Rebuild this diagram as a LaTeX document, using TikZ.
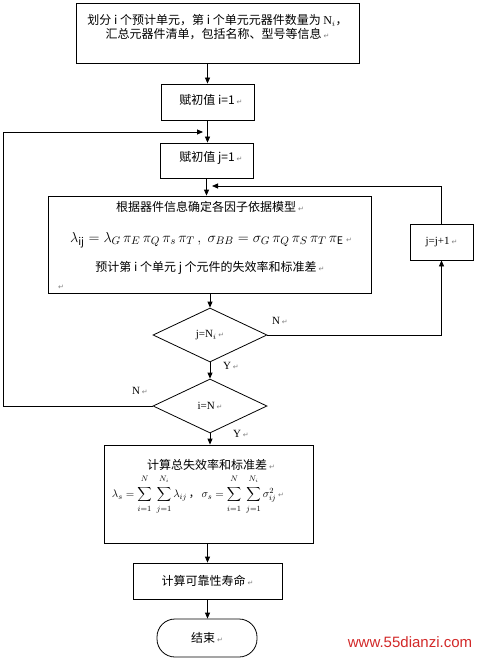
\documentclass[tikz,border=0pt]{standalone}
\usepackage{fontspec}
\setmainfont{Noto Sans CJK SC}
\newfontfamily\lat{Liberation Serif}
\newfontfamily\wmf{Liberation Sans}
\newfontfamily\symf{DejaVu Sans}
\usetikzlibrary{arrows.meta,shapes.geometric}
\newcommand{\retmark}{\,{\symf\fontsize{7}{7}\selectfont\textcolor{gray}{↵}}}
\newcommand{\mysum}[2]{\mathop{\sum}\limits_{\lower3pt\hbox{$\scriptstyle #1$}}^{\raise3pt\hbox{$\scriptstyle #2$}}}
\definecolor{wmred}{RGB}{210,40,40}
\begin{document}
\begin{tikzpicture}[x=1pt,y=-1pt,
  box/.style={draw,line width=0.8pt,inner sep=0pt},
  arr/.style={line width=0.8pt,-{Triangle[length=6pt,width=5pt]}},
  ln/.style={line width=0.8pt},
  txt/.style={inner sep=0pt,font=\fontsize{12}{14}\selectfont},
  lbl/.style={inner sep=0pt,font=\lat\fontsize{11}{12}\selectfont},
  dia/.style={diamond,draw,line width=0.8pt,aspect=2.1,minimum width=114pt,minimum height=54pt,inner sep=0pt,font=\lat\fontsize{11}{12}\selectfont}]
\useasboundingbox (0,0) rectangle (479,663);
% boxes
\node[box,minimum width=283pt,minimum height=60pt] (b1) at (217.5,33) {};
\node[txt,align=center] (t1) at (217.5,27) {划分 i 个预计单元，第 i 个单元元器件数量为 {\lat N$_i$}，\\汇总元器件清单，包括名称、型号等信息\retmark};
\node[box,minimum width=93pt,minimum height=36pt] (b2) at (207.5,102) {};
\node[txt] (t2) at (211,100) {赋初值 i=1\retmark};
\node[box,minimum width=93pt,minimum height=35pt] (b3) at (206.5,160.5) {};
\node[txt] (t3) at (211,158) {赋初值 j=1\retmark};
\node[box,minimum width=323pt,minimum height=97pt] (b4) at (209.5,244.5) {};
\node[txt] (t4a) at (210,207) {根据器件信息确定各因子依据模型\retmark};
\node[txt,font=\fontsize{15}{17}\selectfont] (t4b) at (211,240) {$\lambda_{\mathrm{ij}} = \lambda_G\,\pi_E\,\pi_Q\,\pi_s\,\pi_T\,,\;\sigma_{BB} = \sigma_G\,\pi_Q\,\pi_S\,\pi_T\,\pi_{\mathrm{E}}$\retmark};
\node[txt] (t4c) at (210,268) {预计第 i 个单元 j 个元件的失效率和标准差\retmark};
\node[txt] (t4d) at (60,287) {\retmark};
\node[dia] (d1) at (210,335) {j=N$_i$\retmark};
\node[dia] (d2) at (210,406) {i=N\retmark};
\node[box,minimum width=63pt,minimum height=36pt,font=\lat\fontsize{11}{12}\selectfont] (jj) at (441.5,242) {j=j+1\retmark};
\node[box,minimum width=209pt,minimum height=98pt] (b5) at (208.5,494) {};
\node[txt] (t5a) at (211,465) {计算总失效率和标准差\retmark};
\node[txt,font=\fontsize{11}{13}\selectfont] (t5b) at (198,495) {$\displaystyle\lambda_s=\mysum{i=1}{N}\;\mysum{j=1}{N_i}\lambda_{ij}$\,，\,$\displaystyle\sigma_s=\mysum{i=1}{N}\;\mysum{j=1}{N_i}\sigma_{ij}^2$\retmark};
\node[box,minimum width=149pt,minimum height=36pt,font=\fontsize{12}{14}\selectfont] (b6) at (207.5,581) {计算可靠性寿命\retmark};
\node[draw,line width=0.8pt,rounded corners=18pt,minimum width=100pt,minimum height=38pt,inner sep=0pt,font=\fontsize{12}{14}\selectfont] (e) at (207,638) {结束\retmark};
% labels
\node[lbl] (n1) at (280,321) {N\retmark};
\node[lbl] (y1) at (231,366) {Y\retmark};
\node[lbl] (n2) at (140,391) {N\retmark};
\node[lbl] (y2) at (241,434) {Y\retmark};
\node[inner sep=0pt,font=\wmf\fontsize{15}{16}\selectfont,text=wmred] (wm) at (410,642) {www.55dianzi.com};
% connectors
\draw[arr] (b2.north |- b1.south) -- (b2.north);
\draw[arr] (b2.south) -- (b2.south |- b3.north);
\draw[arr] (b3.south) -- (b3.south |- b4.north);
\draw[arr] (d1.north |- b4.south) -- (d1.north);
\draw[arr] (d1.south) -- (d2.north);
\draw[arr] (d2.south) -- (d2.south |- b5.north);
\draw[arr] (b6.north |- b5.south) -- (b6.north);
\draw[arr] (b6.south) -- (b6.south |- e.north);
\draw[arr] (d1.east) -| (jj.south);
\coordinate (jback) at (212,186);
\draw[arr] (jj.north) |- (jback);
\coordinate (lcorner) at (3,132);
\coordinate (iback) at (203,132);
\draw[ln] (d2.west) -| (lcorner);
\draw[arr] (lcorner) -- (iback);
\end{tikzpicture}
\end{document}
